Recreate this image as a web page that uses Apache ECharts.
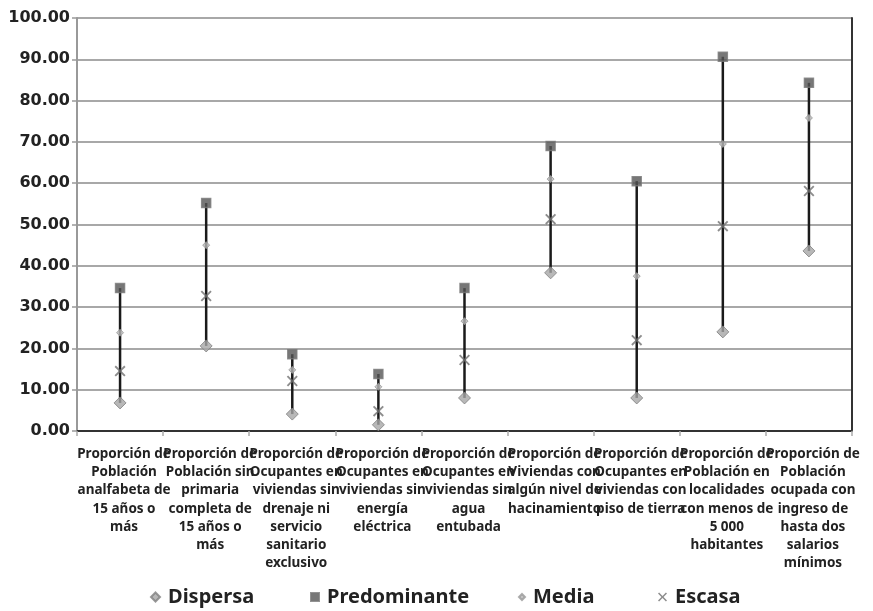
<!DOCTYPE html>
<html><head><meta charset="utf-8">
<script src="https://cdn.jsdelivr.net/npm/echarts@6/dist/echarts.min.js"></script>
<style>html,body{margin:0;padding:0;background:#fff}#c{width:873px;height:611px}</style>
</head><body><div id="c"></div>
<script>
const categories = [
  "Proporción de\nPoblación\nanalfabeta de\n15 años o\nmás",
  "Proporción de\nPoblación sin\nprimaria\ncompleta de\n15 años o\nmás",
  "Proporción de\nOcupantes en\nviviendas sin\ndrenaje ni\nservicio\nsanitario\nexclusivo",
  "Proporción de\nOcupantes en\nviviendas sin\nenergía\neléctrica",
  "Proporción de\nOcupantes en\nviviendas sin\nagua\nentubada",
  "Proporción de\nViviendas con\nalgún nivel de\nhacinamiento",
  "Proporción de\nOcupantes en\nviviendas con\npiso de tierra",
  "Proporción de\nPoblación en\nlocalidades\ncon menos de\n5 000\nhabitantes",
  "Proporción de\nPoblación\nocupada con\ningreso de\nhasta dos\nsalarios\nmínimos"
];
const dispersa     = [6.8, 20.6, 4.1, 1.5, 8.0, 38.3, 8.0, 24.0, 43.6];
const predominante = [34.6, 55.2, 18.6, 13.8, 34.6, 69.0, 60.5, 90.6, 84.3];
const media        = [23.8, 45.0, 14.8, 10.7, 26.6, 61.0, 37.5, 69.5, 75.8];
const escasa       = [14.5, 32.7, 12.1, 4.8, 17.2, 51.3, 22.0, 49.6, 58.1];
const yTicks = [0, 10, 20, 30, 40, 50, 60, 70, 80, 90, 100];
const seriesNames = ['Dispersa', 'Predominante', 'Media', 'Escasa'];

const YFONT = "'DejaVu Sans', sans-serif";
const FONT = "'Noto Sans', 'Open Sans', sans-serif";
const ranges = categories.map((c, i) => {
  const v = [dispersa[i], predominante[i], media[i], escasa[i]];
  return [i, Math.min(...v), Math.max(...v)];
});
const xPath = 'path://M0,1.2L1.2,0L5,3.8L8.8,0L10,1.2L6.2,5L10,8.8L8.8,10L5,6.2L1.2,10L0,8.8L3.8,5Z';

const legendLefts = [150, 310, 518, 658];
const legendSizes = [9, 8, 6, 9];
const legends = seriesNames.map((n, i) => ({
  data: [n], left: legendLefts[i], top: 585, padding: 0, itemWidth: legendSizes[i], itemHeight: legendSizes[i], itemGap: 0,
  textStyle: { fontFamily: FONT, fontWeight: 'bold', fontSize: 20, lineHeight: 24, color: '#222', padding: [0, 0, 0, 3] }
}));

const chart = echarts.init(document.getElementById('c'));
chart.setOption({
  animation: false,
  backgroundColor: '#fff',
  grid: { left: 77, right: 21, top: 18, bottom: 180, show: false, containLabel: false },
  xAxis: [{
    type: 'category', data: categories, boundaryGap: true,
    axisLine: { lineStyle: { color: '#aaa', width: 2 } },
    axisTick: { show: true, alignWithLabel: false, length: 5, lineStyle: { color: '#aaa', width: 1.5 } },
    axisLabel: { interval: 0, margin: 14, fontFamily: FONT, fontWeight: 'bold', fontSize: 13.5, lineHeight: 18.2, color: '#222', align: 'center', padding: [0, 0, 0, 8] }
  }, {
    type: 'category', data: categories, position: 'top',
    axisLine: { show: true, lineStyle: { color: '#333', width: 2 } },
    axisTick: { show: false }, axisLabel: { show: false }, splitLine: { show: false }
  }],
  yAxis: [{
    type: 'value', min: yTicks[0], max: yTicks[yTicks.length - 1], interval: 10,
    axisLine: { show: true, lineStyle: { color: '#999', width: 2 } },
    axisTick: { show: true, length: 5, lineStyle: { color: '#999', width: 1.5 } },
    axisLabel: { fontFamily: YFONT, fontWeight: 'bold', fontSize: 16, color: '#222', margin: 7, formatter: v => v.toFixed(2) },
    splitLine: { lineStyle: { color: '#a8a8a8', width: 2 } }
  }, {
    type: 'value', min: yTicks[0], max: yTicks[yTicks.length - 1], interval: 10, position: 'right',
    axisLine: { show: true, lineStyle: { color: '#333', width: 2 } },
    axisTick: { show: false }, axisLabel: { show: false }, splitLine: { show: false }
  }],
  legend: legends,
  series: [
    {
      type: 'custom', name: 'range', silent: true, z: 1,
      data: ranges,
      renderItem: (params, api) => {
        const p1 = api.coord([api.value(0), api.value(1)]);
        const p2 = api.coord([api.value(0), api.value(2)]);
        return { type: 'line', shape: { x1: p1[0], y1: p1[1], x2: p2[0], y2: p2[1] }, style: { stroke: '#1a1a1a', lineWidth: 2.5 } };
      }
    },
    { name: 'Dispersa', type: 'scatter', z: 3, data: dispersa, symbol: 'diamond', symbolSize: 12,
      itemStyle: { color: '#a6a6a6', borderColor: '#7f7f7f', borderWidth: 1 } },
    { name: 'Predominante', type: 'scatter', z: 3, data: predominante, symbol: 'rect', symbolSize: 9,
      itemStyle: { color: '#555', borderColor: '#777', borderWidth: 1.5 } },
    { name: 'Media', type: 'scatter', z: 3, data: media, symbol: 'diamond', symbolSize: 7,
      itemStyle: { color: '#b8b8b8', borderColor: '#999', borderWidth: 1 } },
    { name: 'Escasa', type: 'scatter', z: 3, data: escasa, symbol: xPath, symbolSize: 11,
      itemStyle: { color: '#707070' } }
  ]
});
</script></body></html>
